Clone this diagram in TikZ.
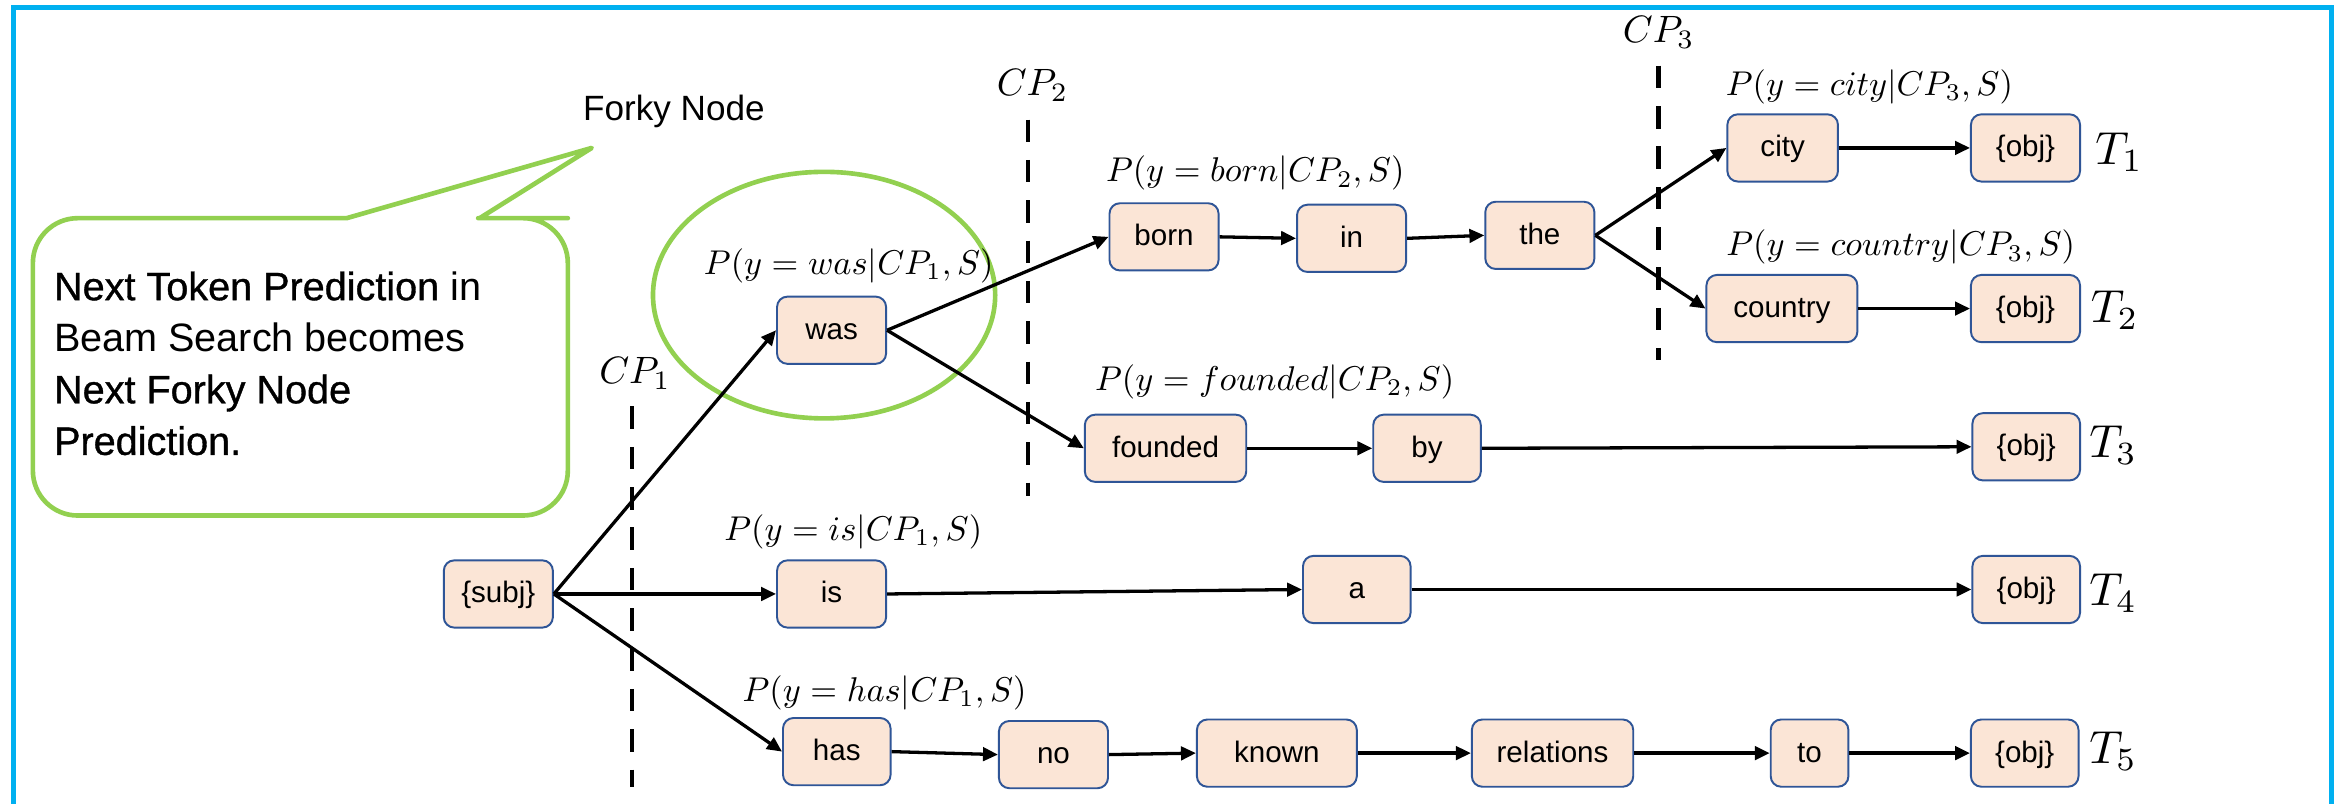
\documentclass[tikz,border=0pt]{standalone}
\usepackage{graphicx}
\usepackage{fontspec}
\setmainfont{Liberation Sans}
\newfontface\heavyface{Liberation Sans}[FakeBold=0.9]
\usetikzlibrary{arrows.meta}
\definecolor{frameblue}{HTML}{00B0F0}
\definecolor{forkgreen}{HTML}{92D050}
\definecolor{boxfill}{HTML}{FBE5D6}
\definecolor{boxline}{HTML}{2F5597}
\begin{document}
\begin{tikzpicture}[x=1pt,y=-1pt,
  tok/.style={draw=boxline, fill=boxfill, rounded corners=7pt, line width=1.3pt,
    minimum height=45pt, inner sep=0pt, text height=14.5pt, text depth=2.5pt,
    font=\fontsize{19.8}{23}\selectfont},
  arr/.style={line width=2.2pt, -{Triangle[length=10pt,width=9pt]}},
  prob/.style={inner sep=0pt},
  cplabel/.style={inner sep=0pt},
  tlabel/.style={inner sep=0pt, anchor=base west},
  cpline/.style={line width=3.2pt, dash pattern=on 15pt off 12pt},
  greenline/.style={draw=forkgreen, line width=3.1pt, line join=round},
]
\useasboundingbox (0,0) rectangle (1568,538);
\fill[white] (0,0) rectangle (1568,538);
% frame
\draw[frameblue, line width=3.3pt] (9,545) -- (9,5) -- (1560.5,5) -- (1560.5,545);

% callout
\draw[greenline] (232,146) [rounded corners=30pt] -- (22,146) -- (22,345) -- (380,345) -- (380,146) -- (350,146)
  [sharp corners] -- (321,146) -- (396,99) -- cycle;
\node[anchor=north west, align=left, inner sep=0pt, font=\fontsize{26.5}{34.5}\selectfont] (bubbletext) at (36,181.5)
  {{\heavyface Next Token Prediction} in\\Beam Search becomes\\{\heavyface Next Forky Node}\\{\heavyface Prediction.}};
\node[inner sep=0pt, font=\fontsize{23.5}{28}\selectfont] (forkylabel) at (451,74.5) {Forky Node};

% forky node ellipse
\draw[greenline] (551.5,197.5) ellipse [x radius=114.5, y radius=82.5];

% cut points
\node[cplabel] (cp1) at (425,250) {\scalebox{2.55}{$CP_1$}};
\node[cplabel] (cp2) at (691,57) {\scalebox{2.55}{$CP_2$}};
\node[cplabel] (cp3) at (1110,21.5) {\scalebox{2.55}{$CP_3$}};
\coordinate (cp1a) at (423,272);  \coordinate (cp1b) at (423,527);
\coordinate (cp2a) at (688,80);   \coordinate (cp2b) at (688,332);
\coordinate (cp3a) at (1110,44);  \coordinate (cp3b) at (1110,241);
\draw[cpline] (cp1a) -- (cp1b);
\draw[cpline] (cp2a) -- (cp2b);
\draw[cpline] (cp3a) -- (cp3b);

% token nodes
\node[tok, minimum width=73pt] (nsubj) at (333.5,397.5) {\{subj\}};
\node[tok, minimum width=73pt] (nwas) at (556.5,221) {was};
\node[tok, minimum width=73pt] (nis) at (556.5,397.5) {is};
\node[tok, minimum width=72pt] (nhas) at (560,503) {has};
\node[tok, minimum width=73pt] (nborn) at (779,158.5) {born};
\node[tok, minimum width=73pt] (nin) at (904.5,159.5) {in};
\node[tok, minimum width=73pt] (nthe) at (1030.5,157.5) {the};
\node[tok, minimum width=74pt] (ncity) at (1193,99) {city};
\node[tok, minimum width=101pt] (ncountry) at (1192.5,206.5) {country};
\node[tok, minimum width=108pt] (nfounded) at (780,300) {founded};
\node[tok, minimum width=72pt] (nby) at (955,300) {by};
\node[tok, minimum width=72pt] (na) at (908,394.5) {a};
\node[tok, minimum width=73pt] (nno) at (705,505) {no};
\node[tok, minimum width=107pt] (nknown) at (854.5,504) {known};
\node[tok, minimum width=108pt] (nrelations) at (1039,504) {relations};
\node[tok, minimum width=52pt] (nto) at (1211,504) {to};
\node[tok, minimum width=73pt] (o1) at (1355.5,99) {\{obj\}};
\node[tok, minimum width=73pt] (o2) at (1355.5,206.5) {\{obj\}};
\node[tok, minimum width=72pt] (o3) at (1356,299) {\{obj\}};
\node[tok, minimum width=72pt] (o4) at (1356,394.5) {\{obj\}};
\node[tok, minimum width=72pt] (o5) at (1355,504) {\{obj\}};

% trajectory labels
\node[tlabel] (t1) at (1402,110) {\scalebox{3.1}{$T_1$}};
\node[tlabel] (t2) at (1399,216) {\scalebox{3.1}{$T_2$}};
\node[tlabel] (t3) at (1398,306) {\scalebox{3.1}{$T_3$}};
\node[tlabel] (t4) at (1398,405) {\scalebox{3.1}{$T_4$}};
\node[tlabel] (t5) at (1398,511) {\scalebox{3.1}{$T_5$}};

% probability labels
\node[prob] (pwas) at (568,178) {\scalebox{2.3}{$P(y=was|CP_1,S)$}};
\node[prob] (pis) at (571,356) {\scalebox{2.3}{$P(y=is|CP_1,S)$}};
\node[prob] (phas) at (592,463.5) {\scalebox{2.3}{$P(y=has|CP_1,S)$}};
\node[prob] (pborn) at (840,116) {\scalebox{2.3}{$P(y=born|CP_2,S)$}};
\node[prob] (pfounded) at (853,255.5) {\scalebox{2.3}{$P(y=founded|CP_2,S)$}};
\node[prob] (pcity) at (1251,58) {\scalebox{2.3}{$P(y=city|CP_3,S)$}};
\node[prob] (pcountry) at (1272,165.5) {\scalebox{2.3}{$P(y=country|CP_3,S)$}};

% connectors
\draw[arr] (nsubj.east) -- (nwas.west);
\draw[arr] (nsubj.east) -- (nis.west);
\draw[arr] (nsubj.east) -- (nhas.west);
\draw[arr] (nwas.east) -- (nborn.west);
\draw[arr] (nwas.east) -- (nfounded.west);
\draw[arr] (nborn.east) -- (nin.west);
\draw[arr] (nin.east) -- (nthe.west);
\draw[arr] (nthe.east) -- (ncity.west);
\draw[arr] (nthe.east) -- (ncountry.west);
\draw[arr] (ncity.east) -- (o1.west);
\draw[arr] (ncountry.east) -- (o2.west);
\draw[arr] (nfounded.east) -- (nby.west);
\draw[arr] (nby.east) -- (o3.west);
\draw[arr] (nis.east) -- (na.west);
\draw[arr] (na.east) -- (o4.west);
\draw[arr] (nhas.east) -- (nno.west);
\draw[arr] (nno.east) -- (nknown.west);
\draw[arr] (nknown.east) -- (nrelations.west);
\draw[arr] (nrelations.east) -- (nto.west);
\draw[arr] (nto.east) -- (o5.west);
\end{tikzpicture}
\end{document}
